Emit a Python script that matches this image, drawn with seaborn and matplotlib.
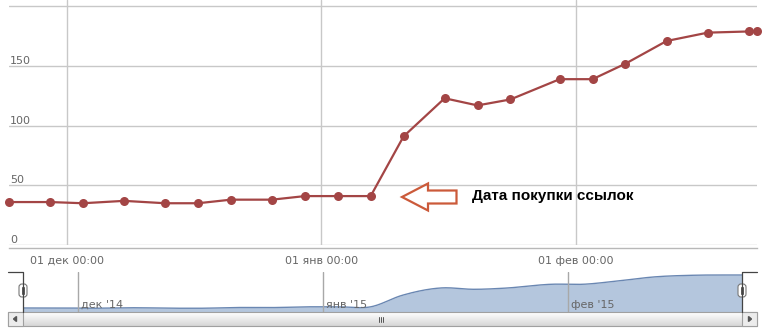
import numpy as np
import pandas as pd
import matplotlib
matplotlib.use("Agg")
import matplotlib.pyplot as plt
import matplotlib.dates as mdates
import seaborn as sns
from matplotlib import transforms
from matplotlib.patches import Polygon, FancyBboxPatch, Rectangle
from matplotlib.lines import Line2D

# ---------------- data ----------------
dates = ["2014-11-24", "2014-11-29", "2014-12-03", "2014-12-08", "2014-12-13",
         "2014-12-17", "2014-12-21", "2014-12-26", "2014-12-30", "2015-01-03",
         "2015-01-07", "2015-01-11", "2015-01-16", "2015-01-20", "2015-01-24",
         "2015-01-30", "2015-02-03", "2015-02-07", "2015-02-12", "2015-02-17",
         "2015-02-22", "2015-02-23"]
values = [36, 36, 35, 37, 35, 35, 38, 38, 41, 41,
          41, 91, 123, 117, 122, 139, 139, 152, 171, 178,
          179, 179]
y_ticks = [0, 50, 100, 150, 200]
y_tick_labels = ["0", "50", "100", "150"]
x_tick_dates = ["2014-12-01", "2015-01-01", "2015-02-01"]
x_tick_labels = ["01 дек 00:00", "01 янв 00:00", "01 фев 00:00"]
nav_labels = ["дек '14", "янв '15", "фев '15"]
annotation = "Дата покупки ссылок"

LINE = "#A34545"
GRID = "#c8c8c8"
TXT = "#666666"

sns.set_style("white")
plt.rcParams["font.family"] = ["DejaVu Sans"]

W, H = 774, 332
fig = plt.figure(figsize=(W / 100, H / 100), dpi=100)
ID = transforms.IdentityTransform()


def P(x, y):
    return (x, H - y)


def fx(x):
    return x / W


def fy(y):
    return 1 - y / H


# ---------------- main chart ----------------
ax = fig.add_axes([fx(9), fy(245), 748 / W, 245 / H])
df = pd.DataFrame({"date": pd.to_datetime(dates), "value": values})
sns.lineplot(data=df, x="date", y="value", ax=ax, color=LINE, lw=1.6,
             marker="o", markersize=6.5, markeredgewidth=0, clip_on=False,
             zorder=5)
x0 = mdates.date2num(df["date"].iloc[0])
x1 = mdates.date2num(df["date"].iloc[-1])
ax.set_xlim(x0, x1)
ax.set_ylim(0, 245 / 1.193)
ax.set_xlabel("")
ax.set_ylabel("")
ax.set_yticks(y_ticks)
ax.set_yticklabels([])
ax.tick_params(axis="y", length=0)
ax.set_xticks(mdates.date2num(pd.to_datetime(x_tick_dates)))
ax.set_xticklabels(x_tick_labels)
ax.tick_params(axis="x", length=5, width=1, color=GRID, pad=1,
               labelsize=8, labelcolor=TXT)
ax.grid(True, color=GRID, lw=1)
for s in ["top", "left", "right"]:
    ax.spines[s].set_visible(False)
ax.spines["bottom"].set_position(("outward", 2))
ax.spines["bottom"].set_color("#b8b8b8")
ax.spines["bottom"].set_linewidth(1)

ytrans = transforms.offset_copy(
    transforms.blended_transform_factory(ax.transAxes, ax.transData),
    fig=fig, x=1, y=2, units="dots")
for v, lab in zip(y_ticks, y_tick_labels):
    ax.text(0, v, lab, transform=ytrans, ha="left", va="baseline",
            fontsize=8, color=TXT)

# annotation arrow + text
arrow_px = [(402, 197), (428, 183.5), (428, 190.5), (456.5, 190.5),
            (456.5, 203.5), (428, 203.5), (428, 210.5)]
fig.add_artist(Polygon([P(x, y) for x, y in arrow_px], closed=True,
                       fill=False, edgecolor="#CB5A3A", lw=1.6,
                       transform=ID, joinstyle="miter"))
fig.text(fx(472), fy(196), annotation, fontsize=11, fontweight="bold",
         family=["Liberation Sans", "DejaVu Sans"], ha="left", va="center",
         color="black")

# ---------------- navigator ----------------
nav = fig.add_axes([fx(23), fy(312), 719 / W, 40 / H])
xn = mdates.date2num(df["date"])
yn = np.array(values, dtype=float)
m = np.gradient(yn, xn)
xs_all, ys_all = [], []
for i in range(len(xn) - 1):
    h = xn[i + 1] - xn[i]
    t = np.linspace(0, 1, 25)
    h00 = 2 * t**3 - 3 * t**2 + 1
    h10 = t**3 - 2 * t**2 + t
    h01 = -2 * t**3 + 3 * t**2
    h11 = t**3 - t**2
    xs_all.append(xn[i] + t * h)
    ys_all.append(h00 * yn[i] + h10 * h * m[i] + h01 * yn[i + 1] + h11 * h * m[i + 1])
xs = np.concatenate(xs_all)
ys = np.concatenate(ys_all)
nav.fill_between(xs, ys, 0, color="#b4c6dd", lw=0, zorder=1)
nav.plot(xs, ys, color="#6a87b2", lw=1, zorder=2)
nav.set_xlim(x0, x1)
nav.set_ylim(18.6, 192)
nav.set_xticks(mdates.date2num(pd.to_datetime(x_tick_dates)))
nav.set_yticks([])
nav.set_xticklabels([])
nav.tick_params(length=0)
nav.xaxis.grid(True, color="#a8a8a8", lw=1, zorder=3)
nav.set_axisbelow(False)
for s in nav.spines.values():
    s.set_visible(False)
navtrans = transforms.offset_copy(
    transforms.blended_transform_factory(nav.transData, nav.transAxes),
    fig=fig, x=3, y=4, units="dots")
for d, lab in zip(x_tick_dates, nav_labels):
    nav.text(mdates.date2num(pd.Timestamp(d)), 0, lab, transform=navtrans,
             ha="left", va="baseline", fontsize=8, color=TXT, zorder=4)

# ---------------- scrollbar ----------------
sb = fig.add_axes([fx(8), fy(326), 749 / W, 14 / H])
grad = np.linspace(1.0, 0.84, 30).reshape(-1, 1)
sb.imshow(grad, aspect="auto", cmap="gray", vmin=0, vmax=1,
          extent=[0, 1, 0, 1], origin="upper")
sb.set_axis_off()
fig.add_artist(Rectangle(P(8, 326), 749, 14, fill=False,
                         edgecolor="#a0a0a0", lw=0.8, transform=ID))
for bx in (8, 742):
    fig.add_artist(Rectangle(P(bx, 326), 15, 14, facecolor="#ececec",
                             edgecolor="#a0a0a0", lw=0.8, transform=ID))
fig.add_artist(Polygon([P(13.5, 319), P(16.5, 316.5), P(16.5, 321.5)],
                       closed=True, color="#555555", transform=ID))
fig.add_artist(Polygon([P(751.5, 319), P(748.5, 316.5), P(748.5, 321.5)],
                       closed=True, color="#555555", transform=ID))
for gx in (379, 381, 383):
    fig.add_artist(Line2D([gx, gx], [H - 316.5, H - 321.5], color="#555555",
                          lw=0.7, transform=ID))

# navigator outline
fig.add_artist(Line2D([8, 23, 23], [H - 272, H - 272, H - 312],
                      color="#444444", lw=0.9, transform=ID))
fig.add_artist(Line2D([742, 742, 757], [H - 312, H - 272, H - 272],
                      color="#444444", lw=0.9, transform=ID))

# handles
for hx in (23, 742):
    fig.add_artist(FancyBboxPatch((hx - 4, H - 297), 8, 13,
                                  boxstyle="round,pad=0,rounding_size=3",
                                  facecolor="white", edgecolor="#777777",
                                  lw=0.8, transform=ID))
    for lx in (hx - 1.2, hx + 1.2):
        fig.add_artist(Line2D([lx, lx], [H - 287, H - 294], color="#555555",
                              lw=0.7, transform=ID))

fig.savefig("out.png", dpi=100)
